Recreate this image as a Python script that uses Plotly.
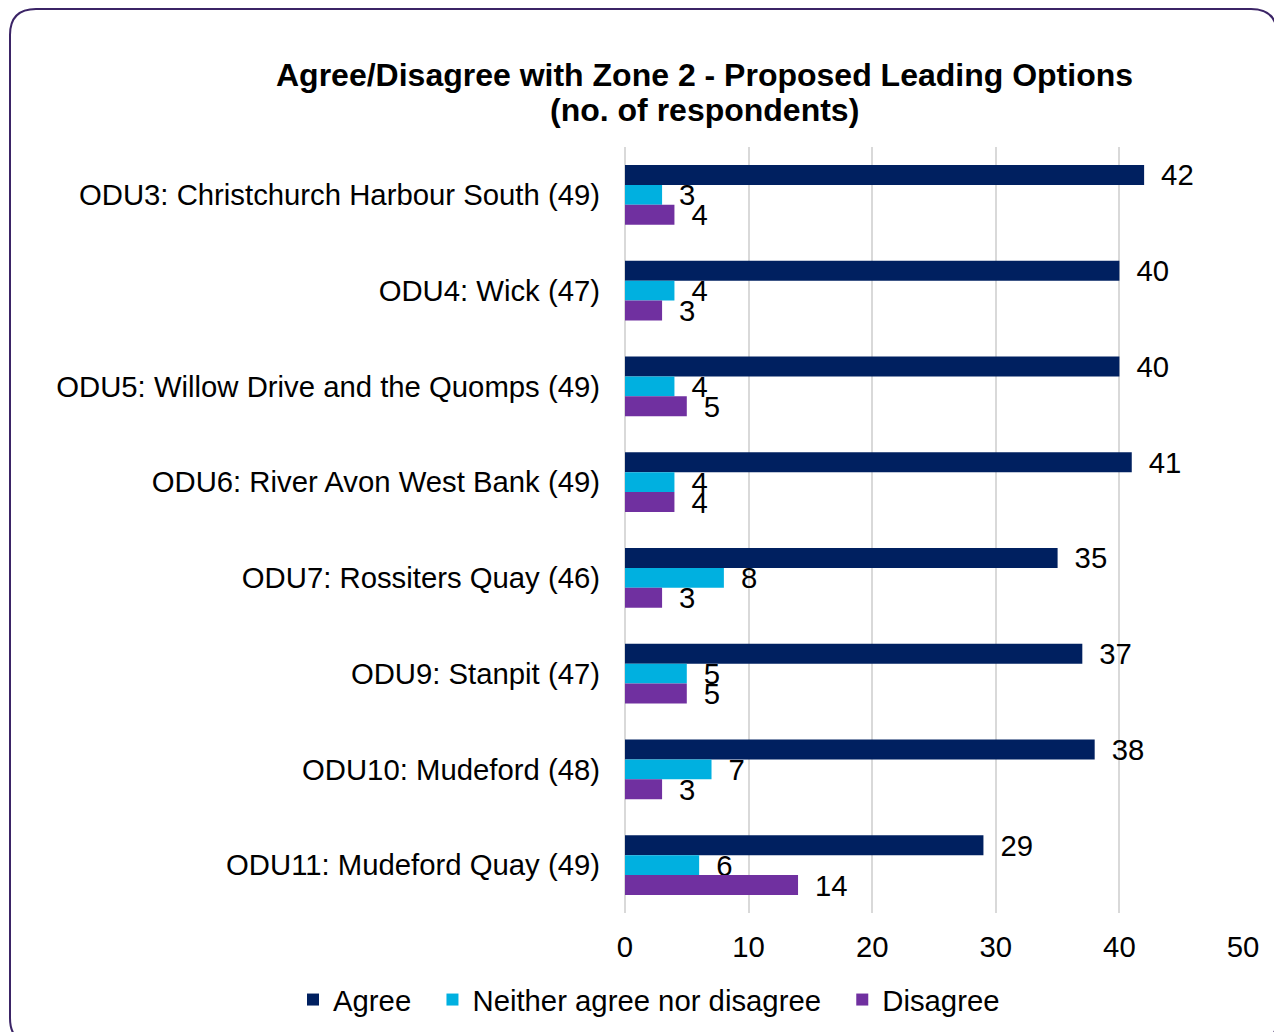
import plotly.graph_objects as go

categories = [
    "ODU3: Christchurch Harbour South (49)",
    "ODU4: Wick (47)",
    "ODU5: Willow Drive and the Quomps (49)",
    "ODU6: River Avon West Bank (49)",
    "ODU7: Rossiters Quay (46)",
    "ODU9: Stanpit (47)",
    "ODU10: Mudeford (48)",
    "ODU11: Mudeford Quay (49)",
]
agree = [42, 40, 40, 41, 35, 37, 38, 29]
neither = [3, 4, 4, 4, 8, 5, 7, 6]
disagree = [4, 3, 5, 4, 3, 5, 3, 14]
series_names = ["Agree", "Neither agree nor disagree", "Disagree"]
series_colors = ["#002060", "#00B0E0", "#7030A0"]
x_ticks = [0, 10, 20, 30, 40, 50]
title_lines = ["Agree/Disagree with Zone 2 - Proposed Leading Options", "(no. of respondents)"]

# page has an 8px body margin: figure coords = page coords - 8
OFF = 8
W, H = 1282 - OFF, 1032 - OFF
L, R, T, B = 625 - OFF, W - (1243 - OFF), 147 - OFF, H - (913 - OFF)
PW, PH = W - L - R, H - T - B

FONT = "Liberation Sans, Arial, sans-serif"
FS = 29.3
LEGEND_PAD = "\u00a0\u00a0"

fig = go.Figure()
for name, vals, col in zip(series_names, [agree, neither, disagree], series_colors):
    fig.add_trace(go.Bar(
        y=categories, x=vals, name=name + LEGEND_PAD, orientation="h",
        marker=dict(color=col, line=dict(width=0)),
        texttemplate="\u00a0\u2009%{x}", textposition="outside",
        textfont=dict(size=FS, color="#000000", family=FONT),
        cliponaxis=False, constraintext="none",
    ))

def px_x(p):
    return (p - OFF - L) / PW

def px_y(p):
    return (H - B - (p - OFF)) / PH

x0, x1, y0, y1, r = 10, 1277, 9, 1044, 26
path = (
    f"M {px_x(x0 + r)} {px_y(y0)} L {px_x(x1 - r)} {px_y(y0)} "
    f"Q {px_x(x1)} {px_y(y0)} {px_x(x1)} {px_y(y0 + r)} "
    f"L {px_x(x1)} {px_y(y1 - r)} Q {px_x(x1)} {px_y(y1)} {px_x(x1 - r)} {px_y(y1)} "
    f"L {px_x(x0 + r)} {px_y(y1)} Q {px_x(x0)} {px_y(y1)} {px_x(x0)} {px_y(y1 - r)} "
    f"L {px_x(x0)} {px_y(y0 + r)} Q {px_x(x0)} {px_y(y0)} {px_x(x0 + r)} {px_y(y0)} Z"
)

annotations = []
for line, yc in zip(title_lines, [75, 110]):
    annotations.append(dict(
        text=f"<b>{line}</b>", xref="paper", yref="paper",
        x=px_x(704), y=px_y(yc), xanchor="center", yanchor="middle",
        showarrow=False, font=dict(size=32, family=FONT, color="#000000"),
    ))

fig.update_layout(
    width=W, height=H,
    margin=dict(l=L, r=R, t=T, b=B, autoexpand=False),
    paper_bgcolor="white", plot_bgcolor="white",
    barmode="group", bargap=0.375, bargroupgap=0,
    font=dict(family=FONT, size=FS, color="#000000"),
    annotations=annotations,
    xaxis=dict(
        range=[0, 50], tickvals=x_ticks, showgrid=True, gridcolor="#D9D9D9", gridwidth=2,
        zeroline=True, zerolinecolor="#D9D9D9", zerolinewidth=2, showline=False,
        tickfont=dict(size=FS), ticks="", ticklen=0, ticklabelstandoff=14, fixedrange=True,
    ),
    yaxis=dict(
        autorange="reversed", showgrid=False, zeroline=False, showline=False,
        ticks="", ticklabelstandoff=24, tickfont=dict(size=FS),
    ),
    legend=dict(
        orientation="h", xref="paper", yref="paper",
        x=px_x(293), xanchor="left", y=px_y(1000), yanchor="middle",
        font=dict(size=FS), bgcolor="rgba(0,0,0,0)", tracegroupgap=0,
    ),
    showlegend=True,
    shapes=[dict(type="path", path=path, xref="paper", yref="paper",
                 line=dict(color="#3B2466", width=2), fillcolor="rgba(0,0,0,0)", layer="above")],
)

fig.write_html("out.html")
